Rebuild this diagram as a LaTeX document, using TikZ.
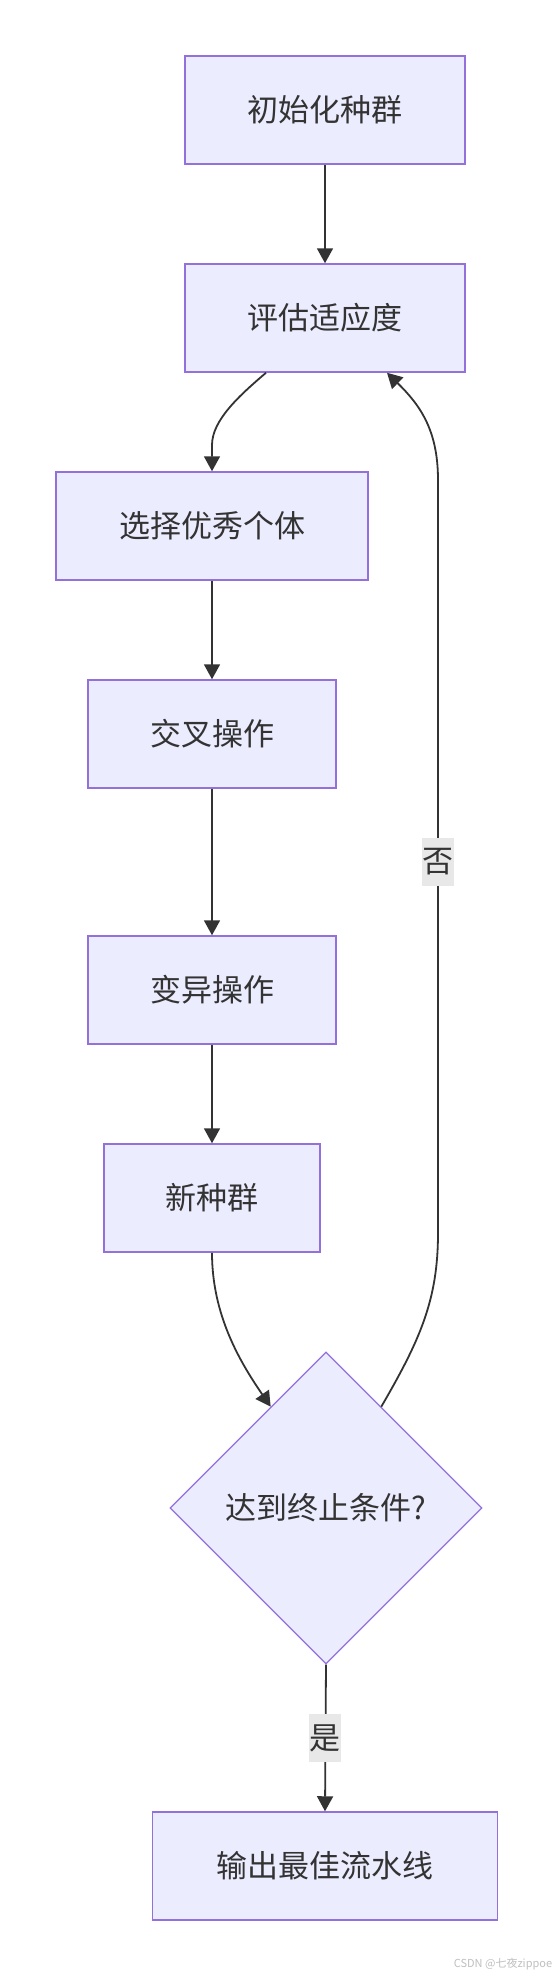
\documentclass[tikz,border=0pt]{standalone}
\usepackage{fontspec}
\setmainfont{Noto Sans CJK SC}
\usetikzlibrary{shapes.geometric,arrows.meta,calc}
\definecolor{nodefill}{HTML}{ECECFF}
\definecolor{nodeborder}{HTML}{9370DB}
\definecolor{edgecol}{HTML}{333333}
\definecolor{labelbg}{HTML}{E8E8E8}
\begin{document}
\begin{tikzpicture}[x=1pt,y=-1pt,
  proc/.style={draw=nodeborder, fill=nodefill, line width=1.5pt, minimum height=108pt, inner sep=0pt, font=\fontsize{31}{36}\selectfont, text=edgecol},
  decision/.style={diamond, aspect=1, draw=nodeborder, fill=nodefill, line width=1.3pt, minimum width=312pt, minimum height=312pt, inner sep=0pt, font=\fontsize{31}{36}\selectfont, text=edgecol},
  flow/.style={draw=edgecol, line width=1.8pt, -{Triangle[length=15pt,width=16pt]}},
  edgelabel/.style={fill=labelbg, inner sep=0pt, minimum width=32pt, minimum height=48pt, font=\fontsize{31}{36}\selectfont, text=edgecol}]
\useasboundingbox (0,0) rectangle (553,1975);
\fill[white] (0,0) rectangle (553,1975);

\node[proc, minimum width=280pt] (init) at (325,110) {初始化种群};
\node[proc, minimum width=280pt] (eval) at (325,318) {评估适应度};
\node[proc, minimum width=312pt] (sel) at (212,526) {选择优秀个体};
\node[proc, minimum width=248pt] (cross) at (212,734) {交叉操作};
\node[proc, minimum width=248pt] (mut) at (212,990) {变异操作};
\node[proc, minimum width=216pt] (newpop) at (212,1198) {新种群};
\node[decision] (cond) at (326,1508) {达到终止条件?};
\node[proc, minimum width=345pt] (out) at (325,1866) {输出最佳流水线};

\draw[flow] (init) -- (eval);
\draw[flow] ([xshift=-59pt]eval.south) .. controls (240,395) and (212,420) .. (212,445) -- (sel.north);
\draw[flow] (sel) -- (cross);
\draw[flow] (cross) -- (mut);
\draw[flow] (mut) -- (newpop);
\draw[flow] (newpop.south) .. controls (212,1315) and (240,1362) .. ($(cond.north)!0.353!(cond.west)$);
\draw[flow] ($(cond.north)!0.353!(cond.east)$) .. controls (420,1340) and (438,1300) .. (438,1233) -- (438,480) .. controls (438,430) and (420,405) .. ([xshift=62pt]eval.south);
\draw[flow] (cond.south) -- (out.north);

\node[edgelabel] (nolabel) at (438,862) {否};
\node[edgelabel] (yeslabel) at (325,1738) {是};
\node[font=\fontsize{11}{13}\selectfont, text=black!25] (wm) at (503,1964) {CSDN @七夜zippoe};
\end{tikzpicture}
\end{document}
